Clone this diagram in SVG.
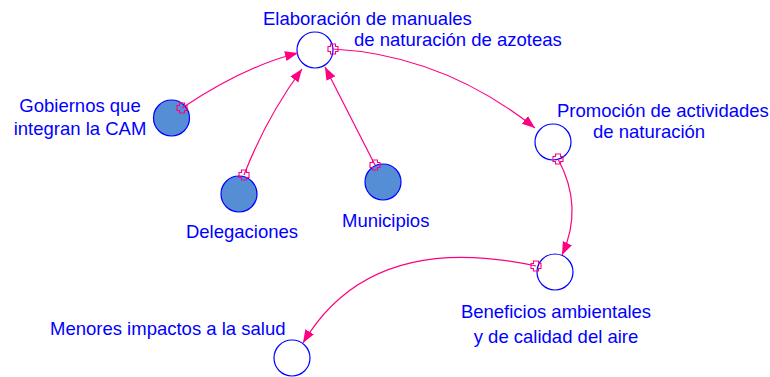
<svg xmlns="http://www.w3.org/2000/svg" width="770" height="377" viewBox="0 0 770 377">
<style>
.lbl{font-family:"Liberation Sans",Arial,sans-serif;font-size:18.5px;fill:#0000ff}
.mid{text-anchor:middle}
.var{fill:#ffffff;stroke:#0000ff;stroke-width:1.2}
.ext{fill:#558ed5;stroke:#0000ff;stroke-width:1.2}
.lnk{fill:none;stroke:#ff0080;stroke-width:1.2;marker-end:url(#arr);marker-start:url(#tail)}
</style>
<defs>
<marker id="arr" markerUnits="userSpaceOnUse" markerWidth="14" markerHeight="11" refX="13" refY="5" orient="auto" viewBox="0 0 14 11">
<path d="M0,0 L13,5 L0,10 Z" fill="#ff0080"/>
</marker>
<marker id="tail" markerUnits="userSpaceOnUse" markerWidth="14" markerHeight="14" refX="7" refY="7" orient="0" viewBox="0 0 14 14">
<path d="M4.5,2 H9.5 V4.5 H12 V9.5 H9.5 V12 H4.5 V9.5 H2 V4.5 H4.5 Z" fill="none" stroke="#ff0080" stroke-width="1.1"/>
</marker>
</defs>
<g id="n_elaboracion">
<circle class="var" cx="315" cy="50" r="18"/>
<text class="lbl" x="263" y="25">Elaboración de manuales</text>
<text class="lbl" x="354" y="46">de naturación de azoteas</text>
</g>
<g id="n_gobiernos">
<circle class="ext" cx="171.5" cy="118" r="18"/>
<text class="lbl mid" x="80" y="112">Gobiernos que</text>
<text class="lbl mid" x="80" y="135">integran la CAM</text>
</g>
<g id="n_delegaciones">
<circle class="ext" cx="239" cy="194" r="18"/>
<text class="lbl mid" x="242" y="238">Delegaciones</text>
</g>
<g id="n_municipios">
<circle class="ext" cx="383" cy="182" r="18"/>
<text class="lbl" x="342" y="227">Municipios</text>
</g>
<g id="n_promocion">
<circle class="var" cx="553" cy="142" r="18"/>
<text class="lbl" x="557" y="117">Promoción de actividades</text>
<text class="lbl" x="593" y="138">de naturación</text>
</g>
<g id="n_beneficios">
<circle class="var" cx="555" cy="272" r="18"/>
<text class="lbl mid" x="556" y="318">Beneficios ambientales</text>
<text class="lbl mid" x="556" y="343">y de calidad del aire</text>
</g>
<g id="n_menores">
<circle class="var" cx="292" cy="358" r="18"/>
<text class="lbl" x="50" y="335">Menores impactos a la salud</text>
</g>
<g id="connectors">
<path class="lnk" d="M182,108 Q245,66 298,53"/>
<path class="lnk" d="M244,175 Q266,118 302,69"/>
<path class="lnk" d="M375,165 L325,67"/>
<path class="lnk" d="M333,49 Q443,55 535,128"/>
<path class="lnk" d="M558,159 Q584,207 562,255"/>
<path class="lnk" d="M536,266 Q370,230 303,343"/>
</g>
</svg>
